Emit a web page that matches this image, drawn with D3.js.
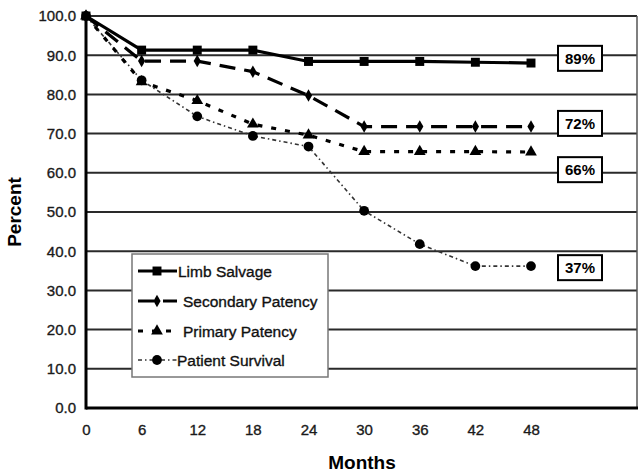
<!DOCTYPE html>
<html><head><meta charset="utf-8">
<script src="https://cdn.jsdelivr.net/npm/d3@7"></script>
<style>body{margin:0;background:#fff}svg{display:block;font-family:"Liberation Sans",Arial,sans-serif}</style>
</head><body><svg id="c" width="639" height="474"></svg>
<script>
const months = [0, 6, 12, 18, 24, 30, 36, 42, 48];
const limbSalvage = [100, 91.3, 91.3, 91.3, 88.4, 88.4, 88.4, 88.2, 88.0];
const secondaryPatency = [100, 88.5, 88.5, 85.8, 79.7, 71.8, 71.8, 71.8, 71.8];
const primaryPatency = [100, 83.2, 78.4, 72.4, 69.6, 65.4, 65.4, 65.4, 65.3];
const patientSurvival = [100, 83.6, 74.4, 69.4, 66.7, 50.3, 41.8, 36.2, 36.2];
const seriesNames = ["Limb Salvage", "Secondary Patency", "Primary Patency", "Patient Survival"];
const endLabels = ["89%", "72%", "66%", "37%"];
const endLabelAt = [89.2, 72.6, 60.8, 35.8];
const yTicks = [0, 10, 20, 30, 40, 50, 60, 70, 80, 90, 100];

const svg = d3.select("#c");
const x = d3.scaleLinear().domain([0, 48]).range([86, 531]);
const y = d3.scaleLinear().domain([0, 100]).range([408, 16]);
const right = 637;

// gridlines
svg.append("g").selectAll("line").data(yTicks.filter(d => d > 0)).join("line")
  .attr("x1", x(0)).attr("x2", right).attr("y1", d => y(d)).attr("y2", d => y(d))
  .attr("stroke", "#2a2a2a").attr("stroke-width", 2);
// right border
svg.append("line").attr("x1", right).attr("x2", right).attr("y1", y(100)).attr("y2", y(0))
  .attr("stroke", "#555").attr("stroke-width", 1.5);

// axes
const yAxis = svg.append("g").attr("transform", `translate(${x(0)},0)`)
  .call(d3.axisLeft(y).tickValues(yTicks).tickFormat(d3.format(".1f")).tickSize(0).tickPadding(10));
const xAxis = svg.append("g").attr("transform", `translate(0,${y(0)})`)
  .call(d3.axisBottom(x).tickValues(months).tickSize(0).tickPadding(16));
[yAxis, xAxis].forEach(a => {
  a.select(".domain").remove();
  a.selectAll("text").attr("font-size", 15).attr("fill", "#1a1a1a")
   .attr("stroke", "#1a1a1a").attr("stroke-width", 0.35)
   .attr("font-family", "'Liberation Sans',Arial,sans-serif");
});
svg.append("line").attr("x1", x(0)).attr("x2", x(0)).attr("y1", y(100) - 1).attr("y2", y(0) + 1.5)
  .attr("stroke", "#000").attr("stroke-width", 3);
svg.append("line").attr("x1", x(0)).attr("x2", right + 1).attr("y1", y(0)).attr("y2", y(0))
  .attr("stroke", "#000").attr("stroke-width", 3);

// titles
svg.append("text").attr("transform", `translate(21,${y(50)}) rotate(-90)`)
  .attr("text-anchor", "middle").attr("font-weight", "bold").attr("font-size", 19).text("Percent");
svg.append("text").attr("x", 362).attr("y", 469).attr("text-anchor", "middle")
  .attr("font-weight", "bold").attr("font-size", 19).text("Months");

const styles = [
  {w: 3.2, dash: null, color: "#000", marker: d3.symbolSquare, size: 80},
  {w: 3.2, dash: "16,9", color: "#000", marker: d3.symbolDiamond, size: 45},
  {w: 3.2, dash: "5,9", color: "#000", marker: d3.symbolTriangle, size: 60},
  {w: 1.6, dash: "4,3,1.5,3", color: "#333", marker: d3.symbolCircle, size: 75}
];
const allSeries = [limbSalvage, secondaryPatency, primaryPatency, patientSurvival];
const line = d3.line().x((d, i) => x(months[i])).y(d => y(d));

// draw back-to-front so Limb Salvage is on top
for (let s = allSeries.length - 1; s >= 0; s--) {
  const st = styles[s];
  svg.append("path").datum(allSeries[s]).attr("d", line).attr("fill", "none")
    .attr("stroke", st.color).attr("stroke-width", st.w)
    .attr("stroke-dasharray", st.dash);
  svg.append("g").selectAll("path").data(allSeries[s]).join("path")
    .attr("transform", (d, i) => `translate(${x(months[i])},${y(d)})`)
    .attr("d", d3.symbol().type(st.marker).size(st.size)).attr("fill", "#000");
}

// end labels
endLabels.forEach((t, i) => {
  const cy = y(endLabelAt[i]);
  svg.append("rect").attr("x", 558).attr("y", cy - 12.5).attr("width", 44).attr("height", 25)
    .attr("fill", "#fff").attr("stroke", "#000").attr("stroke-width", 2);
  svg.append("text").attr("x", 580).attr("y", cy + 5.5).attr("text-anchor", "middle")
    .attr("font-weight", "bold").attr("font-size", 15).text(t);
});

// legend
const lg = svg.append("g");
lg.append("rect").attr("x", 132).attr("y", 254).attr("width", 196).attr("height", 123)
  .attr("fill", "#fff").attr("stroke", "#777").attr("stroke-width", 1.5);
const rowY = [271, 301, 331, 360];
const textX = [178, 183, 183, 177];
seriesNames.forEach((n, i) => {
  const st = styles[i];
  lg.append("line").attr("x1", 138).attr("x2", 177).attr("y1", rowY[i]).attr("y2", rowY[i])
    .attr("stroke", st.color).attr("stroke-width", st.w).attr("stroke-dasharray", st.dash);
  lg.append("path").attr("transform", `translate(157,${rowY[i]})`)
    .attr("d", d3.symbol().type(st.marker).size(st.size)).attr("fill", "#000");
  lg.append("text").attr("x", textX[i]).attr("y", rowY[i] + 5.5).attr("font-size", 15.5)
    .attr("fill", "#111").attr("stroke", "#111").attr("stroke-width", 0.35).text(n);
});
</script></body></html>
